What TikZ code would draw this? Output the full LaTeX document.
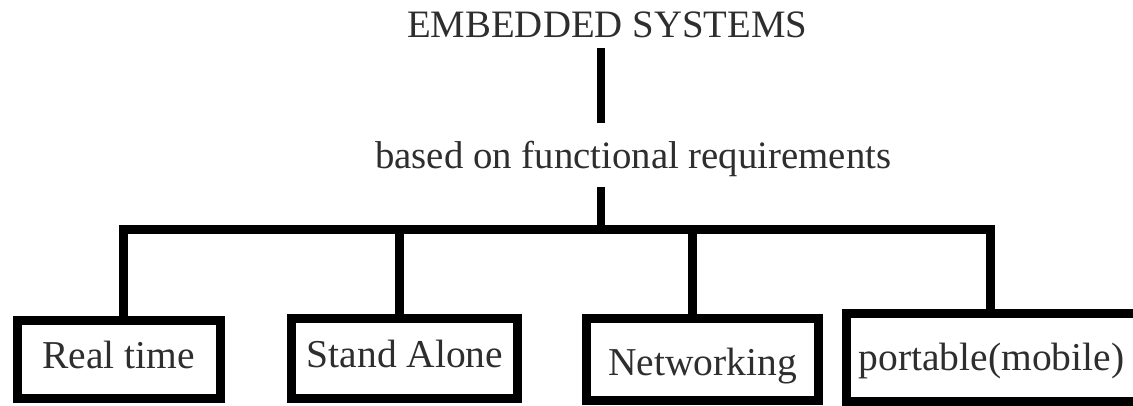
\documentclass[tikz,border=0pt]{standalone}
\usepackage{fontspec}
\setmainfont{Liberation Serif}
\begin{document}
\begin{tikzpicture}[x=1pt,y=-1pt,
  conn/.style={line width=9pt,draw=black,line join=miter},
  stem/.style={line width=8pt,draw=black},
  box/.style={draw=black,line width=9pt,rectangle,inner sep=0pt,fill=none},
  lbl/.style={inner sep=0pt,text=black!82,font=\fontsize{39.5}{47}\selectfont},
  head/.style={inner sep=0pt,text=black!82,font=\fontsize{38.8}{46}\selectfont}]
\useasboundingbox (0,0) rectangle (1133,405);
\clip (0,0) rectangle (1133,405);
\fill[white] (0,0) rectangle (1133,405);
% heading texts
\node[head,anchor=base west] (title) at (407,37) {EMBEDDED SYSTEMS};
\node[head,anchor=base west] (basis) at (375,168) {based on functional requirements};
% boxes
\node[box,minimum width=203pt,minimum height=78pt] (b1) at (119,359.5) {};
\node[box,minimum width=226pt,minimum height=80pt] (b2) at (404.5,358) {};
\node[box,minimum width=232pt,minimum height=81.5pt] (b3) at (702.5,359.25) {};
\node[box,minimum width=291pt,minimum height=87.5pt] (b4) at (991.5,357.25) {};
\node[lbl,anchor=base] (t1) at (118.5,368) {Real time};
\node[lbl,anchor=base] (t2) at (405,367) {Stand Alone};
\node[lbl,anchor=base] (t3) at (702.5,375) {Networking};
\node[lbl,anchor=base] (t4) at (991.5,370) {portable(mobile)};
% stems
\coordinate (s1) at (601,48);
\coordinate (s2) at (601,123);
\coordinate (s3) at (601,187);
\coordinate (j0) at (601,229);
\coordinate (j1) at (123,229);
\coordinate (j2) at (399.5,229);
\coordinate (j3) at (692.5,229);
\coordinate (j4) at (990.5,229);
\draw[stem] (s1) -- (s2);
\draw[stem] (s3) -- (j0);
\draw[conn] (j1 |- b1.north) -- (j1) -- (j4) -- (j4 |- b4.north);
\draw[conn] (j2) -- (j2 |- b2.north);
\draw[conn] (j3) -- (j3 |- b3.north);
\end{tikzpicture}
\end{document}
